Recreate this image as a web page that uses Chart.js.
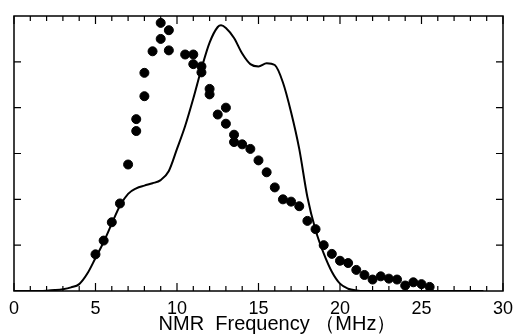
<!DOCTYPE html>
<html>
<head>
    <title>NMR Frequency</title>
    <script src="https://cdn.jsdelivr.net/npm/chart.js"></script>
    <style>
        html, body { margin: 0; padding: 0; background: #fff; }
    </style>
</head>
<body>
    <canvas id="myChart" width="520" height="336"></canvas>

    <script>
        // measured points (dots)
        const dotFreq = [5, 5.5, 6, 6.5, 7, 7.5, 7.5, 8, 8, 8.5, 9, 9, 9.5, 9.5, 10.5, 11, 11, 11.5, 11.5, 12, 12,
                         12.5, 13, 13, 13.5, 13.5, 14, 14.5, 15, 15.5, 16, 16.5, 17, 17.5, 18, 18.5, 19, 19.5, 20,
                         20.5, 21, 21.5, 22, 22.5, 23, 23.5, 24, 24.5, 25, 25.5];
        const dotAmp = [0.80, 1.10, 1.50, 1.91, 2.76, 3.49, 3.75, 4.25, 4.76, 5.23, 5.50, 5.85, 5.69, 5.25, 5.16, 5.16, 4.95,
                        4.90, 4.77, 4.41, 4.29, 3.85, 4.00, 3.65, 3.41, 3.25, 3.20, 3.10, 2.85, 2.59, 2.26, 2.00, 1.95,
                        1.85, 1.53, 1.35, 1.00, 0.81, 0.66, 0.61, 0.46, 0.35, 0.25, 0.32, 0.27, 0.25, 0.12, 0.19, 0.15, 0.09];

        // calculated spectrum (line)
        const curveFreq = [0, 1, 1.5, 2, 2.5, 3, 3.5, 4, 4.5, 5, 5.5, 6, 6.5, 7, 7.5, 8, 8.5, 9, 9.5, 10, 10.5, 11, 11.5,
                           12, 12.5, 12.7, 13, 13.5, 14, 14.5, 15, 15.5, 16, 16.5, 17, 17.5, 18, 18.5, 19, 19.5, 20,
                           20.5, 21, 21.5, 22, 28.8];
        const curveAmp = [0, 0, 0.002, 0.008, 0.02, 0.04, 0.08, 0.15, 0.38, 0.72, 1.07, 1.47, 1.86, 2.12, 2.24, 2.30, 2.35,
                          2.42, 2.62, 3.1, 3.6, 4.2, 4.85, 5.42, 5.76, 5.80, 5.74, 5.52, 5.18, 4.95, 4.90, 4.97, 4.93,
                          4.55, 3.9, 3.1, 2.05, 1.33, 0.82, 0.42, 0.16, 0.05, 0.012, 0, 0, 0];

        const xTicks = [0, 5, 10, 15, 20, 25, 30];
        const xTitle = 'NMR  Frequency （MHz）';

        // frame with inward ticks, drawn from the scales
        const framePlugin = {
            id: 'frame',
            afterDraw(chart) {
                const ctx = chart.ctx, a = chart.chartArea;
                const xs = chart.scales.x, ys = chart.scales.y;
                ctx.save();
                ctx.strokeStyle = '#000';
                ctx.lineWidth = 1.5;
                ctx.strokeRect(a.left, a.top, a.right - a.left, a.bottom - a.top);
                ctx.lineWidth = 1.2;
                ctx.beginPath();
                for (let v = xs.min; v <= xs.max; v++) {
                    const px = xs.getPixelForValue(v);
                    const len = v % 5 === 0 ? 8 : 5;
                    ctx.moveTo(px, a.bottom); ctx.lineTo(px, a.bottom - len);
                    ctx.moveTo(px, a.top); ctx.lineTo(px, a.top + len);
                }
                for (let v = ys.min + 1; v < ys.max; v++) {
                    const py = ys.getPixelForValue(v);
                    ctx.moveTo(a.left, py); ctx.lineTo(a.left + 7, py);
                    ctx.moveTo(a.right, py); ctx.lineTo(a.right - 7, py);
                }
                ctx.stroke();
                ctx.fillStyle = '#000';
                ctx.font = '20px "Liberation Sans", Arial, sans-serif';
                ctx.textAlign = 'center';
                ctx.textBaseline = 'alphabetic';
                ctx.fillText(xTitle, (a.left + a.right) / 2 + 19, 330);
                ctx.restore();
            }
        };

        const ctx = document.getElementById('myChart').getContext('2d');
        new Chart(ctx, {
            type: 'scatter',
            data: {
                datasets: [{
                    type: 'line',
                    data: curveFreq.map((f, i) => ({ x: f, y: curveAmp[i] })),
                    borderColor: '#000',
                    borderWidth: 2,
                    pointRadius: 0,
                    fill: false,
                    cubicInterpolationMode: 'monotone'
                }, {
                    data: dotFreq.map((f, i) => ({ x: f, y: dotAmp[i] })),
                    backgroundColor: '#000',
                    borderColor: '#000',
                    pointRadius: 4.5,
                    pointHoverRadius: 4.5
                }]
            },
            options: {
                responsive: false,
                animation: false,
                devicePixelRatio: 1,
                layout: { padding: { left: 14, right: 14, top: 16, bottom: 0 } },
                plugins: { legend: { display: false }, tooltip: { enabled: false } },
                scales: {
                    x: {
                        type: 'linear', min: 0, max: 30,
                        afterBuildTicks: s => { s.ticks = xTicks.map(v => ({ value: v })); },
                        afterFit: s => { s.height = 45; },
                        grid: { display: false, drawTicks: false },
                        border: { display: false },
                        ticks: {
                            color: '#000', padding: 7,
                            font: { family: '"Liberation Sans", Arial, sans-serif', size: 18 }
                        }
                    },
                    y: {
                        min: 0, max: 6,
                        afterFit: s => { s.width = 0; },
                        grid: { display: false, drawTicks: false },
                        border: { display: false },
                        ticks: { display: false }
                    }
                }
            },
            plugins: [framePlugin]
        });
    </script>
</body>
</html>
